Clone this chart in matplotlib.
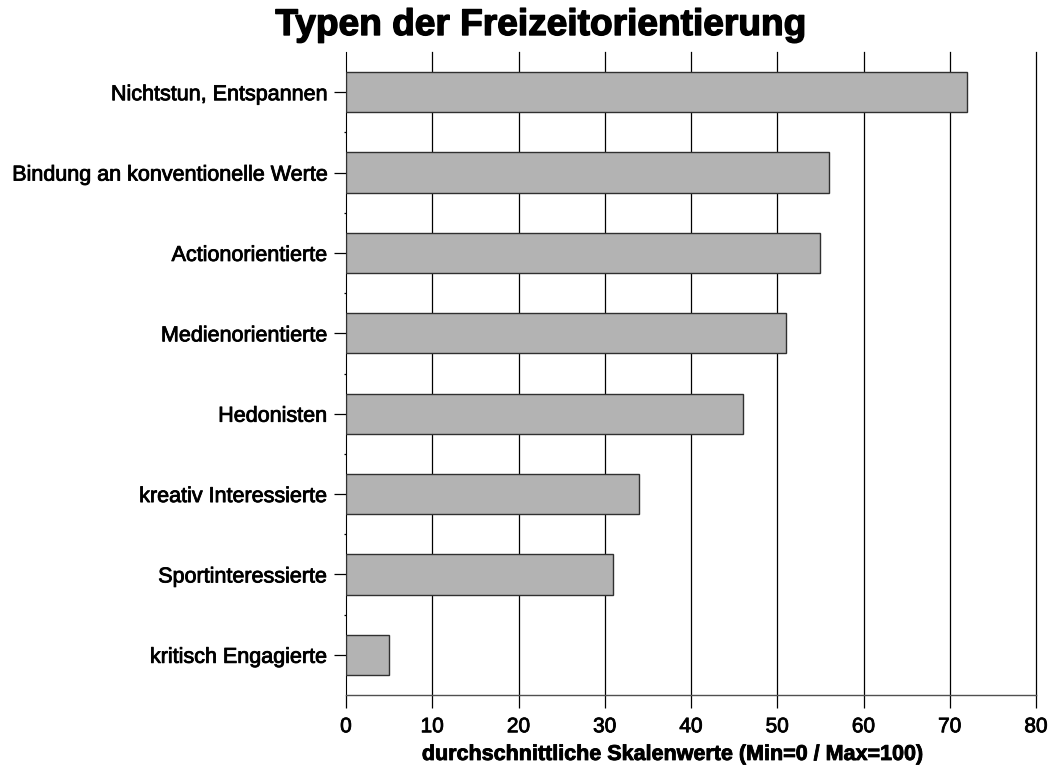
import matplotlib.pyplot as plt
import matplotlib.patheffects as pe
from matplotlib.ticker import FixedLocator

plt.rcParams['font.family'] = ['Liberation Sans', 'DejaVu Sans']

# Daten (von oben nach unten)
kategorien = ["Nichtstun, Entspannen", "Bindung an konventionelle Werte",
              "Actionorientierte", "Medienorientierte", "Hedonisten",
              "kreativ Interessierte", "Sportinteressierte", "kritisch Engagierte"]
werte = [72, 56, 55, 51, 46, 34, 31, 5]
x_ticks = [0, 10, 20, 30, 40, 50, 60, 70, 80]

# etwas kräftigere Schrift wie im Original
dick = [pe.withStroke(linewidth=0.6, foreground='black')]

fig = plt.figure(figsize=(10.53, 7.65), dpi=100)
ax = fig.add_axes([0.3286, 0.0915, 0.9839 - 0.3286, 0.932 - 0.0915])

pos = list(range(len(kategorien)))
ax.barh(pos, werte, height=0.5, color='#b3b3b3', edgecolor='#303030',
        linewidth=1.0, zorder=3)

ax.set_ylim(len(kategorien) - 0.5, -0.5)
ax.set_xlim(0, 80)
ax.set_xticks(x_ticks)
ax.set_yticks(pos)
ax.set_yticklabels(kategorien)
ax.yaxis.set_minor_locator(FixedLocator([p + 0.5 for p in pos[:-1]]))

for x in x_ticks[1:]:
    ax.axvline(x, color='black', linewidth=0.9, zorder=1, clip_on=False)

for s in ['top', 'right']:
    ax.spines[s].set_visible(False)
ax.spines['left'].set_color('black')
ax.spines['bottom'].set_color('#505050')
ax.spines['bottom'].set_linewidth(1.0)

ax.tick_params(axis='x', direction='out', length=9.5, width=0.9, labelsize=15, pad=6.5)
ax.tick_params(axis='y', which='major', direction='out', length=9, width=0.9, labelsize=15.5, pad=5)
ax.tick_params(axis='y', which='minor', direction='out', length=1.5, width=0.9)

for lbl in ax.get_xticklabels() + ax.get_yticklabels():
    lbl.set_path_effects(dick)

fig.text(0.639, 1 - 760 / 765, "durchschnittliche Skalenwerte (Min=0 / Max=100)",
         fontsize=15.5, fontweight='bold', ha='center', va='baseline', path_effects=dick)
fig.text(0.514, 1 - 35 / 765, "Typen der Freizeitorientierung",
         fontsize=26.7, fontweight='bold', ha='center', va='baseline',
         path_effects=[pe.withStroke(linewidth=1.0, foreground='black')])

plt.savefig('out.png')
